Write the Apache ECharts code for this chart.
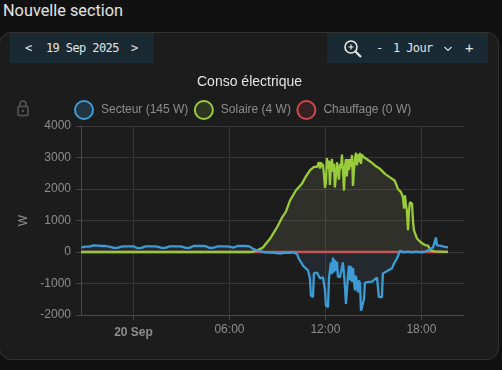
<!DOCTYPE html>
<html><head><meta charset="utf-8">
<style>
html,body{margin:0;padding:0;width:502px;height:370px;overflow:hidden;background:#111;font-family:Roboto,sans-serif}
#h{position:absolute;left:3px;top:-1px;font-size:16.3px;line-height:24px;color:#e4e4e4}
#card{position:absolute;left:-1px;top:32px;width:498px;height:326px;background:#1c1c1c;border:1px solid #333;border-radius:12px}
.p{position:absolute;top:33px;height:30px;background:#1a2a33}
.t{position:absolute;top:40px;font:12px/16px "DejaVu Sans Mono",monospace;letter-spacing:-0.6px;color:#e4e4e4;white-space:pre}
#c{position:absolute;left:0;top:0;width:502px;height:370px}
svg{position:absolute}
</style></head><body>
<div id="h">Nouvelle section</div>
<div id="card"></div>
<div class="p" style="left:10px;width:144px"></div>
<div class="p" style="left:327px;width:161px"></div>
<div class="t" style="left:25px">&lt;</div>
<div class="t" style="left:46px">19 Sep 2025</div>
<div class="t" style="left:131px">&gt;</div>
<div class="t" style="left:376px">-</div>
<div class="t" style="left:393px">1 Jour</div>
<div class="t" style="left:465px;font-size:14px">+</div>
<svg style="left:343px;top:39px" width="20" height="20" viewBox="0 0 20 20" fill="none" stroke="#e8e8e8"><circle cx="8" cy="8" r="6" stroke-width="1.6"/><path d="M12.5 12.5L18 18" stroke-width="2.2"/><path d="M5.5 8h5M8 5.5v5" stroke-width="1.2"/></svg>
<svg style="left:443px;top:45px" width="10" height="8" viewBox="0 0 10 8" fill="none" stroke="#ddd" stroke-width="1.1"><path d="M1.5 2L5 5.5L8.5 2"/></svg>
<svg style="left:16px;top:100px" width="14" height="17" viewBox="0 0 14 17" fill="none" stroke="#555" stroke-width="1.6"><rect x="2" y="6.5" width="10" height="9" rx="1"/><path d="M4 6.5V4a3 3 0 0 1 6 0v2.5"/><circle cx="7" cy="11" r="1.2" fill="#555" stroke="none"/></svg>
<div id="c"></div>
<script src="https://cdn.jsdelivr.net/npm/echarts@6/dist/echarts.min.js"></script>
<script>
const chartTitle = 'Conso électrique';
const seriesNames = ['Secteur (145 W)', 'Solaire (4 W)', 'Chauffage (0 W)'];
const axisStart = -3.28, axisEnd = 20.66;
const tickHours = [0, 6, 12, 18];
const tickLabels = ['20 Sep', '06:00', '12:00', '18:00'];

const secteurHours = [-3.25,-3,-2.75,-2.5,-2.25,-2,-1.75,-1.5,-1.25,-1,-0.75,-0.5,-0.25,0,0.25,0.5,0.75,1,1.25,1.5,1.75,2,2.25,2.5,2.75,3,3.25,3.5,3.75,4,4.25,4.5,4.75,5,5.25,5.5,5.75,6,6.25,6.5,6.75,7,7.25,7.5,7.75,8,
 8.22,8.53,8.84,9.16,9.47,9.78,9.97,10.09,10.22,10.34,10.47,10.59,10.78,10.91,11.03,11.09,11.22,11.28,11.47,11.66,11.84,11.97,12.03,12.16,12.22,
 12.34,12.41,12.47,12.53,12.59,12.66,12.72,12.78,12.84,12.91,13.03,
 13.09,13.16,13.22,13.28,13.34,13.41,13.47,13.53,13.59,13.66,13.72,13.78,13.84,13.91,13.97,14.03,14.09,14.16,14.22,14.28,14.34,14.41,14.47,
 14.72,14.91,15.22,15.28,15.34,15.53,15.59,15.91,16.16,16.28,16.47,16.66,16.78,16.9,17.16,17.41,17.66,17.91,18.16,18.41,18.72,18.84,18.91,18.97,19.16,19.41,19.66];
const secteurWatts = [150,170,170,210,200,190,190,170,130,130,170,180,180,180,120,130,180,180,180,170,130,130,180,180,180,175,130,130,190,190,190,185,130,135,180,180,180,170,140,190,190,190,180,90,50,20,
 -10,-20,-30,-50,-20,-30,-10,-10,-60,-220,-320,-430,-520,-590,-840,-1380,-1430,-680,-650,-840,-800,-1200,-1700,-1750,-840,
 -330,-700,-180,-650,-250,-600,-300,-780,-820,-800,-840,
 -330,-700,-1130,-1650,-1700,-750,-430,-900,-450,-950,-500,-900,-1220,-750,-1100,-1280,-900,-1000,-1860,-1800,-1910,-1500,-970,
 -950,-940,-810,-790,-1430,-1430,-680,-590,-520,-370,-210,40,60,-10,10,-10,10,-5,0,50,140,200,460,210,200,170,145];

const solaireHours = [-3.28,7.28,7.47,7.78,8.09,8.53,8.97,9.28,9.53,9.78,10.16,10.53,10.78,11.03,11.28,11.47,
 11.59,11.66,11.72,11.78,11.84,11.91,11.97,12.03,12.09,12.16,12.22,12.28,12.34,12.41,12.47,12.53,12.59,12.66,12.72,12.78,12.84,12.91,12.97,13.03,13.09,13.16,13.22,13.28,13.34,13.41,13.47,13.53,13.59,13.66,13.72,13.78,13.84,13.91,13.97,14.03,14.09,14.16,14.22,14.28,14.34,
 14.66,14.91,15.16,15.41,15.72,16.03,16.34,16.53,16.72,16.84,16.91,16.97,17.03,17.09,17.16,17.22,17.28,17.41,17.47,17.53,17.59,17.72,17.97,18.22,18.41,18.59,18.84,19.16,19.66];
const solaireWatts = [0,0,10,60,140,420,780,1090,1280,1630,1960,2170,2400,2590,2700,2700,
 2850,2650,2850,2700,2800,2450,2040,2200,2980,2650,2900,2130,2750,2950,2550,2800,2050,2450,2850,2550,2300,2800,2650,3090,2600,1950,2700,2950,2400,2950,2600,2950,2700,3080,2100,2600,2950,3150,2750,3100,2850,3150,2800,3100,3030,
 2920,2830,2720,2640,2480,2370,2260,2000,1900,1750,1380,1800,1500,1320,690,1300,1580,1540,1000,690,650,430,300,220,200,50,20,15,4];

const chauffageHours = [-3.28,19.66];
const chauffageWatts = [0,0];

const pairs = (hs,vs) => hs.map((h,i)=>[h,vs[i]]);
const FONT = '"Liberation Sans"';

const chart = echarts.init(document.getElementById('c'),null,{renderer:'canvas'});
chart.setOption({
 animation:false,
 backgroundColor:'transparent',
 textStyle:{fontFamily:FONT},
 title:{text:chartTitle,left:197,top:75,padding:0,
  textStyle:{color:'#e4e4e4',fontSize:14,fontWeight:'normal',fontFamily:FONT}},
 legend:{left:74,top:100,padding:0,itemWidth:18,itemHeight:18,itemGap:5.5,icon:'circle',
  textStyle:{color:'#8d8d8d',fontSize:12,fontFamily:FONT,padding:[0,0,0,3]},
  data:seriesNames},
 grid:{left:81,right:38,top:126,bottom:55,containLabel:false},
 xAxis:{type:'value',min:axisStart,max:axisEnd,
  axisLine:{onZero:false,lineStyle:{color:'#484848'}},
  axisTick:{length:5,lineStyle:{color:'#484848'},customValues:tickHours},
  splitLine:{show:true,showMinLine:true,showMaxLine:true,lineStyle:{color:'#363636'}},
  axisLabel:{color:'#8d8d8d',fontSize:12,fontFamily:FONT,margin:9,customValues:tickHours,hideOverlap:false,
   formatter:v=>{const s=tickLabels[tickHours.indexOf(+v)];
    return s===tickLabels[0]?'{b|'+s+'}':s;},
   rich:{b:{fontWeight:'bold',color:'#8d8d8d',fontSize:12,fontFamily:FONT,padding:[3,0,0,0]}}}},
 yAxis:{type:'value',min:-2000,max:4000,interval:1000,name:'W',nameLocation:'middle',nameGap:46,
  nameTextStyle:{color:'#8d8d8d',fontSize:12,fontFamily:FONT},
  axisLine:{show:true,onZero:false,lineStyle:{color:'#484848'}},
  axisTick:{show:true,length:5,lineStyle:{color:'#484848'}},
  splitLine:{lineStyle:{color:'#363636'}},
  axisLabel:{color:'#8d8d8d',fontSize:12,fontFamily:FONT,margin:10,formatter:v=>String(v)}},
 series:[
  {name:seriesNames[0],type:'line',z:5,data:pairs(secteurHours,secteurWatts),showSymbol:false,
   lineStyle:{color:'#3d9bd6',width:2.3},itemStyle:{color:'rgba(61,155,214,0.2)',borderColor:'#3d9bd6',borderWidth:2},
   areaStyle:{color:'rgba(90,150,200,0.15)',origin:0}},
  {name:seriesNames[1],type:'line',z:4,data:pairs(solaireHours,solaireWatts),showSymbol:false,
   lineStyle:{color:'#98cc3a',width:2.3},itemStyle:{color:'rgba(152,204,58,0.15)',borderColor:'#98cc3a',borderWidth:2},
   areaStyle:{color:'rgba(210,220,150,0.15)',origin:0}},
  {name:seriesNames[2],type:'line',z:3,data:pairs(chauffageHours,chauffageWatts),showSymbol:false,
   lineStyle:{color:'#d0494c',width:2.3},itemStyle:{color:'rgba(208,73,76,0.15)',borderColor:'#d0494c',borderWidth:2}}
 ]
});
</script>
</body></html>
